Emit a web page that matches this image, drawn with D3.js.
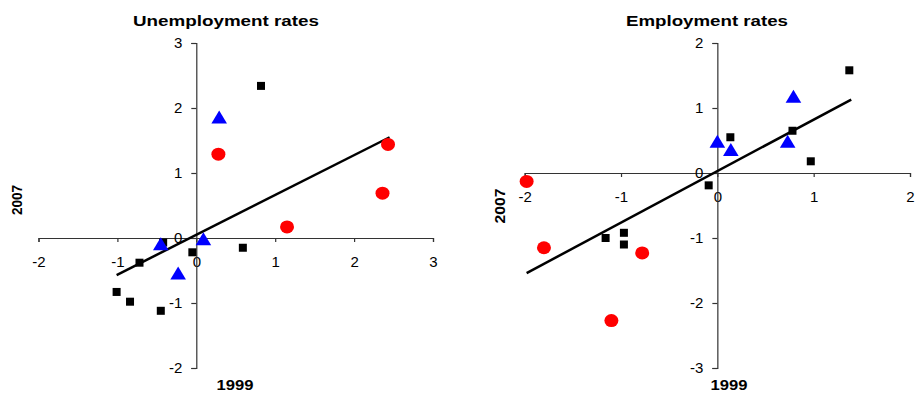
<!DOCTYPE html>
<html>
<head>
<meta charset="utf-8">
<script src="https://cdn.jsdelivr.net/npm/d3@7/dist/d3.min.js"></script>
<style>
  html, body { margin: 0; padding: 0; background: #fff; }
  svg { display: block; }
  text { font-family: "Liberation Sans", Arial, sans-serif; }
</style>
</head>
<body>
<svg id="chart" width="917" height="394"></svg>
<script>
// ---------- Data ----------
// Unemployment rates panel (x = 1999, y = 2007)
const unempSquares = [
  [0.82, 2.34], [-0.42, -0.07], [-0.72, -0.38], [-0.05, -0.22],
  [0.59, -0.15], [-1.01, -0.83], [-0.84, -0.98], [-0.45, -1.12]
];
const unempTriangles = [
  [0.29, 1.86], [-0.45, -0.09], [0.09, -0.01], [-0.23, -0.54]
];
const unempCircles = [
  [0.28, 1.29], [2.43, 1.44], [2.36, 0.69], [1.15, 0.17]
];
const unempTrend = [[-1.01, -0.57], [2.45, 1.55]];
const unempXTicks = [-2, -1, 0, 1, 2, 3];
const unempYTicks = [-2, -1, 0, 1, 2, 3];

// Employment rates panel
const empSquares = [
  [1.37, 1.58], [0.135, 0.55], [0.78, 0.65], [0.97, 0.18],
  [-0.09, -0.19], [-1.16, -1.0], [-0.97, -0.92], [-0.97, -1.10]
];
const empTriangles = [
  [0.79, 1.18], [0.0, 0.49], [0.14, 0.36], [0.73, 0.49]
];
const empCircles = [
  [-1.98, -0.13], [-1.80, -1.15], [-0.78, -1.23], [-1.10, -2.27]
];
const empTrend = [[-1.98, -1.54], [1.39, 1.13]];
const empXTicks = [-2, -1, 0, 1, 2];
const empYTicks = [-3, -2, -1, 0, 1, 2];

const titles = ["Unemployment rates", "Employment rates"];
const xTitle = "1999";
const yTitle = "2007";

// ---------- Drawing ----------
const svg = d3.select("#chart");

function panel(cfg) {
  const g = svg.append("g");
  const x = d3.scaleLinear().domain(cfg.xDomain).range(cfg.xRange);
  const y = d3.scaleLinear().domain(cfg.yDomain).range([368, 43]);

  // x axis at y=0
  const xAxis = d3.axisBottom(x).tickValues(cfg.xTicks).tickSize(4).tickPadding(14)
    .tickFormat(d3.format("d"));
  const gx = g.append("g").attr("transform", `translate(0,${y(0)})`).call(xAxis);
  // y axis at x=0
  const yAxis = d3.axisLeft(y).tickValues(cfg.yTicks).tickSize(5).tickPadding(9)
    .tickFormat(d3.format("d"));
  const gy = g.append("g").attr("transform", `translate(${x(0)},0)`).call(yAxis);

  [gx, gy].forEach(ax => {
    ax.select(".domain").attr("stroke", "#333").attr("stroke-width", 1.2);
    ax.selectAll(".tick line").attr("stroke", "#333").attr("stroke-width", 1.2);
    ax.selectAll(".tick text").attr("fill", "#000")
      .style("font-size", "15px")
      .style("font-family", "'Liberation Sans', Arial, sans-serif");
  });
  gx.selectAll(".tick text").text(d => d < 0 ? "-" + Math.abs(d) : d);
  gy.selectAll(".tick text").text(d => d < 0 ? "-" + Math.abs(d) : d);

  // trend line
  g.append("path")
    .datum(cfg.trend)
    .attr("d", d3.line().x(d => x(d[0])).y(d => y(d[1])))
    .attr("stroke", "#000").attr("stroke-width", 2.5).attr("fill", "none");

  // markers
  g.selectAll(".sq").data(cfg.squares).join("rect")
    .attr("x", d => x(d[0]) - 4).attr("y", d => y(d[1]) - 4)
    .attr("width", 8).attr("height", 8).attr("fill", "#000");
  g.selectAll(".ci").data(cfg.circles).join("ellipse")
    .attr("cx", d => x(d[0])).attr("cy", d => y(d[1]))
    .attr("rx", 7).attr("ry", 6.5).attr("fill", "#ff0000");
  g.selectAll(".tr").data(cfg.triangles).join("path")
    .attr("d", d => {
      const cx = x(d[0]), cy = y(d[1]);
      return `M${cx},${cy - 6.5}L${cx + 7.8},${cy + 6.5}L${cx - 7.8},${cy + 6.5}Z`;
    })
    .attr("fill", "#0000ff");

  // titles
  g.append("text").attr("x", cfg.titleX).attr("y", 25.5)
    .attr("text-anchor", "middle")
    .attr("textLength", cfg.titleLen).attr("lengthAdjust", "spacingAndGlyphs")
    .style("font-size", "15px").style("font-weight", "bold")
    .text(cfg.title);
  g.append("text").attr("x", cfg.xTitleX).attr("y", 390)
    .attr("text-anchor", "middle")
    .attr("textLength", 37).attr("lengthAdjust", "spacingAndGlyphs")
    .style("font-size", "15px").style("font-weight", "bold")
    .text(xTitle);
  g.append("text")
    .attr("transform", `translate(${cfg.yTitleX},${cfg.yTitleY}) rotate(-90)`)
    .attr("text-anchor", "middle")
    .attr("textLength", cfg.yTitleLen).attr("lengthAdjust", "spacingAndGlyphs")
    .style("font-size", "14px").style("font-weight", "bold")
    .text(yTitle);
}

panel({
  xDomain: [-2, 3], xRange: [38.5, 433],
  yDomain: [-2, 3],
  xTicks: unempXTicks, yTicks: unempYTicks,
  squares: unempSquares, triangles: unempTriangles, circles: unempCircles,
  trend: unempTrend,
  title: titles[0], titleX: 226, titleLen: 186,
  xTitleX: 235, yTitleX: 22, yTitleY: 200, yTitleLen: 30
});

panel({
  xDomain: [-2, 2], xRange: [524.7, 910],
  yDomain: [-3, 2],
  xTicks: empXTicks, yTicks: empYTicks,
  squares: empSquares, triangles: empTriangles, circles: empCircles,
  trend: empTrend,
  title: titles[1], titleX: 707, titleLen: 162,
  xTitleX: 729, yTitleX: 505, yTitleY: 206, yTitleLen: 35
});
</script>
</body>
</html>
